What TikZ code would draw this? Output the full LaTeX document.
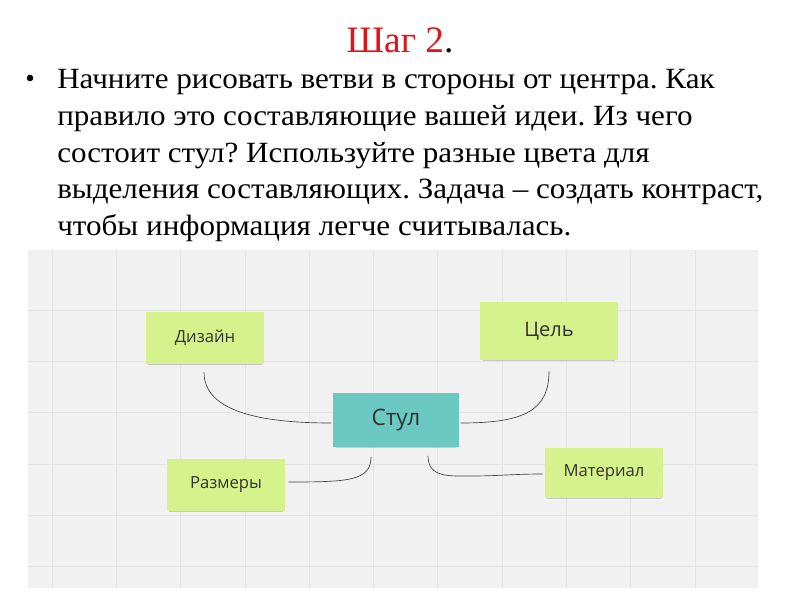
\documentclass[tikz,border=0pt]{standalone}
\usepackage{fontspec}
\setmainfont{Liberation Serif}
\newfontfamily\notefont{Open Sans}
\usetikzlibrary{calc,shadows}
\definecolor{titlered}{RGB}{222,20,24}
\definecolor{notegreen}{RGB}{214,242,140}
\definecolor{noteteal}{RGB}{108,201,193}
\definecolor{boardgray}{RGB}{241,241,241}
\definecolor{gridgray}{RGB}{228,228,228}
\definecolor{notetext}{RGB}{51,51,51}
\frenchspacing
\tikzset{
	sticky/.style={fill=notegreen, draw=none, inner sep=0pt, text=notetext,
		font=\notefont\fontsize{12.5}{15}\selectfont,
		drop shadow={shadow xshift=0pt, shadow yshift=-1.6pt, shadow scale=0.96, opacity=0.35}},
	zeile/.style={anchor=base west, inner sep=0pt, xscale=1.06, transform shape,
		font=\fontsize{22}{26}\selectfont},
	link/.style={draw=black!75, line width=0.5pt}
}

\begin{document}
\begin{tikzpicture}[x=0.75pt, y=-0.75pt]
			%%%%% START %%%%%
			
			\useasboundingbox (0, 0) rectangle (800, 600);
			\fill[white] (0, 0) rectangle (800, 600);
			
			\node[anchor=base, font=\fontsize{28}{34}\selectfont] (titel) at (400, 52) {\textcolor{titlered}{Шаг 2}.};
			
			\fill (30, 78) circle (3.3);
			\node[zeile] (zeile1) at (57, 88) {Начните рисовать ветви в стороны от центра. Как};
			\node[zeile] (zeile2) at (57, 125) {правило это составляющие вашей идеи. Из чего};
			\node[zeile] (zeile3) at (57, 162) {состоит стул? Используйте разные цвета для};
			\node[zeile] (zeile4) at (57, 198) {выделения составляющих. Задача – создать контраст,};
			\node[zeile] (zeile5) at (57, 235) {чтобы информация легче считывалась.};
			
			\fill[boardgray] (28, 250) rectangle (758, 588);
			\foreach \k in {0,...,10}
				\draw[gridgray, line width=0.5pt] ({52+64.3*\k}, 250) -- ({52+64.3*\k}, 588);
			\foreach \k in {0,...,5}
				\draw[gridgray, line width=0.5pt] (28, {310+51.3*\k}) -- (758, {310+51.3*\k});
			
			\node[sticky, minimum width=88.5pt, minimum height=39pt] (dizajn) at (205, 338) {Дизайн};
			\node[sticky, minimum width=103pt, minimum height=43.5pt, font=\notefont\fontsize{15}{18}\selectfont] (cel) at (549, 331) {Цель};
			\node[sticky, fill=noteteal, minimum width=94pt, minimum height=40pt, font=\notefont\fontsize{17}{20}\selectfont] (stul) at (396, 420) {Стул};
			\node[sticky, minimum width=88.5pt, minimum height=39pt] (razmery) at (226, 485) {Размеры};
			\node[sticky, minimum width=88.5pt, minimum height=38pt] (material) at (604, 473) {Материал};
			
			\draw[link] ($(dizajn.south)+(-1, 8)$) .. controls +(0, 42) and +(-62, 0) .. ($(stul.west)+(-2, 3)$);
			\draw[link] ($(cel.south)+(0, 11)$) .. controls +(0, 40) and +(62, 0) .. ($(stul.east)+(2, 3)$);
			\draw[link] ($(razmery.east)+(3, -3)$) .. controls +(60, 0) and +(0, 24) .. ($(stul.south)+(-25, 10)$);
			\draw[link] ($(stul.south)+(32, 9)$) .. controls +(0, 22) and +(-20, 0) .. (470, 476)
				.. controls +(30, 0) and +(-30, 0) .. ($(material.west)+(-2, 1)$);
			
			%%%%% END %%%%%
		\end{tikzpicture}
\end{document}
